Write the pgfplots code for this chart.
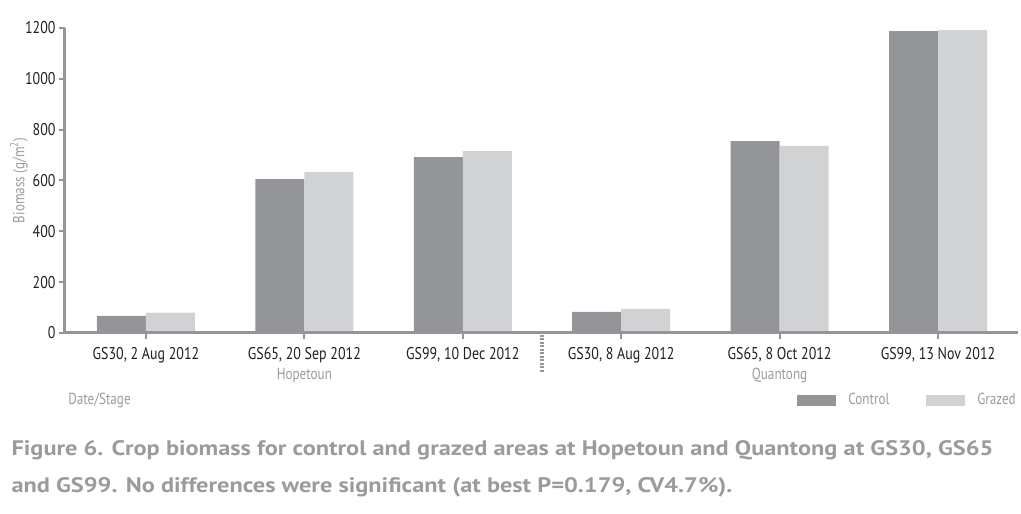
\documentclass[border=0pt]{standalone}
\usepackage{fontspec}
\setmainfont{PT Sans}
\newfontfamily\condfont[FakeStretch=0.82]{PT Sans}
\newfontfamily\capfont[FakeStretch=1.16]{PT Sans}
\usepackage{pgfplots}
\pgfplotsset{compat=1.18}

\definecolor{ctrl}{HTML}{949599}
\definecolor{graz}{HTML}{D1D2D4}
\definecolor{axisgray}{HTML}{939598}
\definecolor{labelgray}{HTML}{9A9B9E}
\definecolor{tickblack}{HTML}{231F20}

\begin{document}
\begin{tikzpicture}
\useasboundingbox (0,0) rectangle (1021pt,514pt);
\begin{axis}[
at={(65pt,181pt)}, anchor=south west,
scale only axis, width=953pt, height=305pt,
clip=false,
ybar=0pt, bar width=49pt,
xmin=-0.511, xmax=5.505, ymin=0, ymax=1200,
axis lines*=left,
axis line style={axisgray, line width=3pt, -},
axis on top,
xtick={0,...,5},
xticklabels={{GS30, 2 Aug 2012},{GS65, 20 Sep 2012},{GS99, 10 Dec 2012},{GS30, 8 Aug 2012},{GS65, 8 Oct 2012},{GS99, 13 Nov 2012}},
ytick={0,200,...,1200},
tick align=outside,
tick style={axisgray, line width=2pt},
major tick length=6pt,
x tick label style={font=\condfont\fontsize{17}{20}\selectfont, text=tickblack, yshift=-5pt},
y tick label style={font=\condfont\fontsize{17}{20}\selectfont, text=tickblack, /pgf/number format/assume math mode=true, /pgf/number format/1000 sep={}},
ylabel={Biomass (g/m\textsuperscript{2})},
every axis y label/.style={at={(axis description cs:-0.0483,0.5)}, rotate=90, anchor=center},
ylabel style={font=\condfont\fontsize{16}{19}\selectfont, text=labelgray},
legend columns=2,
% swatch plus a 10pt gap before the entry text
legend image code/.code={\fill[#1] (0pt,-5.5pt) rectangle (39pt,5.5pt); \path (49pt,0pt);},
legend style={at={(1,-0.2197)}, anchor=east, draw=none, fill=none, inner sep=0pt,
  font=\condfont\fontsize{16}{19}\selectfont, text=labelgray},
]
\addplot[fill=ctrl, draw=none] coordinates {(0,67) (1,605) (2,692) (3,83) (4,755) (5,1188)};
\addplot[fill=graz, draw=none] coordinates {(0,80) (1,633) (2,716) (3,95) (4,736) (5,1192)};
\legend{Control\hspace*{35pt},Grazed}
\node[font=\condfont\fontsize{16}{19}\selectfont, text=labelgray] at (axis cs:1,0) [yshift=-43pt] {Hopetoun};
\node[font=\condfont\fontsize{16}{19}\selectfont, text=labelgray] at (axis cs:4,0) [yshift=-43pt] {Quantong};
\draw[axisgray, line width=4pt, dash pattern=on 2pt off 1.5pt] ([yshift=-2pt]axis cs:2.5,0) -- ([yshift=-40pt]axis cs:2.5,0);
\end{axis}
\node[font=\condfont\fontsize{16}{19}\selectfont, text=labelgray] at (99.5pt,113pt) {Date/Stage};
\node[anchor=west, font=\capfont\bfseries\fontsize{21}{25}\selectfont, text=labelgray] at (8pt,64pt) {Figure 6. Crop biomass for control and grazed areas at Hopetoun and Quantong at GS30, GS65};
\node[anchor=west, font=\capfont\bfseries\fontsize{21}{25}\selectfont, text=labelgray] at (8pt,27pt) {and GS99. No differences were significant (at best P=0.179, CV4.7\%).};
\end{tikzpicture}
\end{document}
